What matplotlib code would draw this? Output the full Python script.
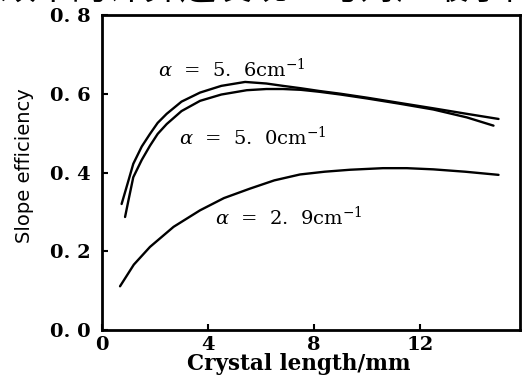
import matplotlib
matplotlib.use("Agg")
import matplotlib.pyplot as plt
from matplotlib.ticker import FixedLocator, FuncFormatter

# ---- data ----
x_56 = [0.74, 1.0, 1.18, 1.5, 1.81, 2.1, 2.44, 3.0, 3.70, 4.5, 5.4, 6.2, 6.83, 7.5, 8.2, 9.0, 10.0, 11.2, 12.5, 13.76, 14.96]
y_56 = [0.320, 0.380, 0.422, 0.466, 0.498, 0.526, 0.549, 0.580, 0.603, 0.620, 0.630, 0.626, 0.620, 0.614, 0.607, 0.600, 0.590, 0.577, 0.563, 0.549, 0.536]

x_50 = [0.87, 1.0, 1.18, 1.5, 1.81, 2.1, 2.44, 3.0, 3.70, 4.5, 5.46, 6.2, 6.83, 7.5, 8.2, 9.0, 10.0, 11.2, 12.5, 13.76, 14.77]
y_50 = [0.287, 0.330, 0.388, 0.432, 0.468, 0.498, 0.523, 0.556, 0.582, 0.598, 0.609, 0.612, 0.612, 0.610, 0.605, 0.598, 0.588, 0.575, 0.560, 0.540, 0.519]

x_29 = [0.68, 1.2, 1.81, 2.7, 3.70, 4.6, 5.58, 6.5, 7.47, 8.4, 9.36, 10.6, 11.5, 12.5, 13.7, 14.96]
y_29 = [0.111, 0.166, 0.211, 0.262, 0.304, 0.335, 0.359, 0.380, 0.395, 0.402, 0.407, 0.411, 0.411, 0.408, 0.402, 0.394]

x_ticks = [0, 4, 8, 12]
y_ticks = [0.0, 0.2, 0.4, 0.6, 0.8]

labels = [r"$\alpha$  =  5.  6cm$^{-1}$", r"$\alpha$  =  5.  0cm$^{-1}$", r"$\alpha$  =  2.  9cm$^{-1}$"]
label_xy = [(2.1, 0.663), (2.9, 0.49), (4.25, 0.287)]

top_text = "效率的计算还发现：与对应最子两"

plt.rcParams["mathtext.fontset"] = "dejavuserif"

fig = plt.figure(figsize=(5.26, 3.76), dpi=100)
ax = fig.add_axes([102/526, 1 - 330/376, 418/526, 315/376])

for xs, ys in [(x_56, y_56), (x_50, y_50), (x_29, y_29)]:
    ax.plot(xs, ys, color="black", lw=1.7, solid_capstyle="round")

ax.set_xlim(0, 15.77)
ax.set_ylim(0, 0.8)
ax.xaxis.set_major_locator(FixedLocator(x_ticks))
ax.yaxis.set_major_locator(FixedLocator(y_ticks))
ax.yaxis.set_major_formatter(FuncFormatter(lambda v, p: f"{v:.1f}".replace(".", ". ")))
ax.xaxis.set_major_formatter(FuncFormatter(lambda v, p: f"{v:g}"))
ax.tick_params(direction="in", length=4, width=1.5, top=False, right=False)
ax.tick_params(axis="y", pad=8)
ax.tick_params(axis="x", pad=4)
for lab in ax.get_xticklabels() + ax.get_yticklabels():
    lab.set_fontfamily("DejaVu Serif")
    lab.set_fontweight("bold")
    lab.set_fontsize(14)
for s in ax.spines.values():
    s.set_linewidth(2.0)

ax.set_xlabel("Crystal length/mm", family="DejaVu Serif", fontweight="bold", fontsize=15.5)
ax.xaxis.set_label_coords((299 - 102) / 418, -(353 - 330) / 315)
ax.set_ylabel("Slope efficiency", family=["Liberation Sans Narrow", "DejaVu Sans"], fontsize=14)
ax.yaxis.set_label_coords(-(102 - 34) / 418, (330 - 166) / 315)

for t, (lx, ly) in zip(labels, label_xy):
    ax.text(lx, ly, t, family="DejaVu Serif", fontsize=14, va="center", ha="left")

fig.text(0.0, 1 + 11/376, top_text, family=["Noto Sans CJK SC", "DejaVu Sans"], fontsize=26, va="center", ha="left")

fig.savefig("out.png", dpi=100)
